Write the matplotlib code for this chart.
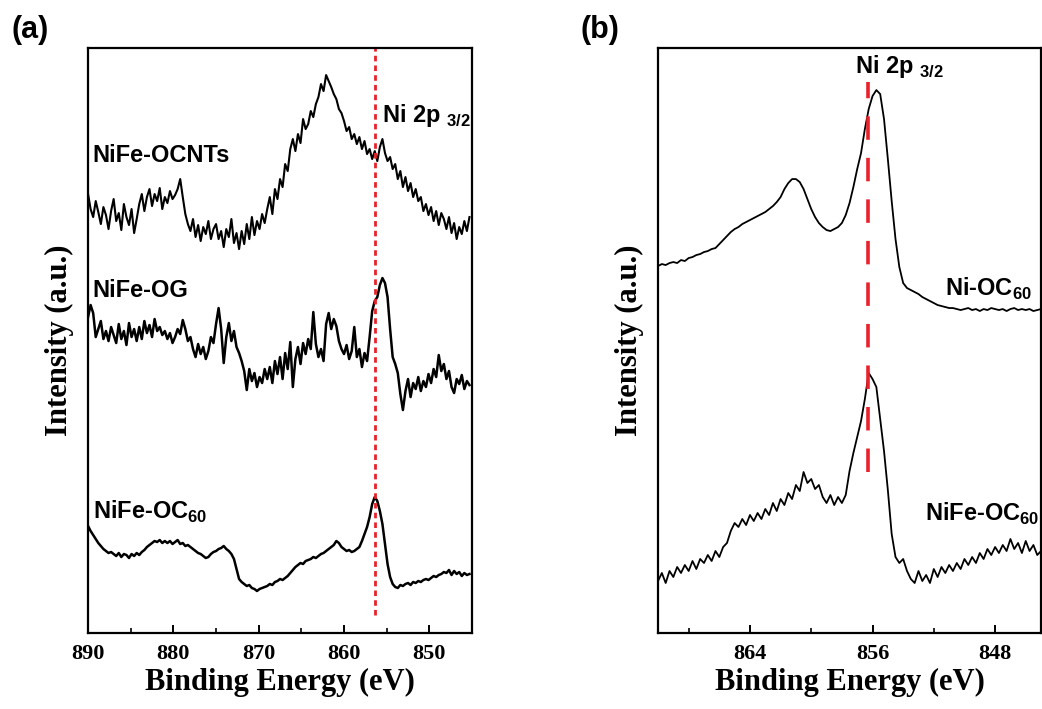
import numpy as np
import matplotlib.pyplot as plt
from matplotlib.ticker import MultipleLocator

plt.rcParams["mathtext.fontset"] = "custom"
plt.rcParams["mathtext.bf"] = "Liberation Sans:bold"

# Panel (a): energy grid 890 -> 845.3 eV, step 0.3 eV
energy_a = np.linspace(890, 845.3, 150)

ocnts = [515, 500, 492, 508, 497, 485, 502, 494, 480, 498,
         510, 488, 496, 479, 505, 492, 484, 500, 476, 490,
         505, 515, 498, 512, 520, 503, 515, 508, 521, 500,
         512, 506, 518, 510, 514, 520, 530, 512, 495, 485,
         478, 490, 472, 484, 468, 482, 475, 488, 470, 480,
         485, 470, 478, 462, 480, 472, 490, 466, 476, 460,
         478, 465, 485, 470, 492, 474, 488, 480, 495, 486,
         500, 512, 495, 520, 510, 530, 522, 545, 538, 560,
         570, 558, 575, 566, 590, 580, 585, 598, 592, 605,
         612, 625, 618, 634, 628, 622, 615, 610, 600, 596,
         588, 578, 582, 570, 575, 565, 572, 560, 568, 555,
         560, 550, 558, 548, 562, 570, 556, 548, 552, 540,
         545, 530, 538, 522, 532, 518, 526, 512, 520, 508,
         512, 498, 505, 494, 502, 488, 498, 484, 496, 490,
         480, 492, 476, 486, 470, 482, 475, 488, 478, 492]

og = [392, 404, 396, 372, 380, 388, 370, 378, 368, 382,
      374, 366, 385, 370, 378, 364, 386, 372, 380, 368,
      382, 370, 388, 376, 384, 372, 390, 378, 382, 374,
      378, 370, 376, 366, 372, 380, 375, 389, 380, 368,
      372, 360, 352, 365, 355, 362, 350, 358, 372, 366,
      385, 401, 380, 346, 372, 386, 368, 378, 362, 356,
      348, 338, 319, 340, 328, 336, 322, 332, 326, 340,
      330, 342, 326, 348, 335, 352, 330, 356, 340, 367,
      322, 350, 362, 345, 366, 355, 370, 360, 397, 365,
      352, 360, 348, 385, 396, 380, 390, 383, 368, 360,
      355, 364, 350, 358, 382, 352, 360, 342, 356, 348,
      372, 398, 408, 412, 424, 431, 426, 412, 380, 352,
      345, 336, 315, 299, 318, 330, 312, 326, 320, 332,
      318, 328, 322, 335, 326, 340, 332, 354, 338, 345,
      330, 338, 322, 316, 330, 325, 334, 320, 328, 324]

oc60_a = [183, 178, 174, 170, 166, 163, 160, 158, 156, 157,
          155, 153, 156, 152, 155, 154, 151, 155, 153, 156,
          154, 157, 159, 162, 164, 166, 168, 167, 169, 166,
          168, 166, 168, 165, 167, 169, 165, 166, 163, 164,
          162, 160, 158, 156, 155, 153, 151, 152, 155, 157,
          158, 160, 161, 163, 160, 158, 155, 150, 140, 130,
          127, 125, 123, 124, 121, 120, 118, 120, 121, 122,
          123, 125, 124, 127, 128, 130, 129, 131, 133, 136,
          139, 142, 144, 146, 145, 148, 149, 150, 152, 151,
          153, 155, 156, 158, 160, 162, 164, 168, 166, 162,
          160, 158, 159, 157, 158, 160, 162, 168, 175, 182,
          192, 205, 212, 208, 198, 185, 165, 145, 132, 125,
          122, 121, 124, 123, 125, 126, 124, 127, 126, 128,
          127, 129, 130, 129, 131, 133, 132, 134, 135, 137,
          136, 139, 134, 138, 135, 137, 133, 136, 134, 135]

# Panel (b): energy grid 870 -> 845 eV, step 0.25 eV
energy_b = np.linspace(870, 845, 101)

ni_oc60 = [443, 445, 444, 446, 447, 446, 449, 448, 451, 452,
           454, 455, 457, 458, 460, 461, 465, 469, 473, 477,
           480, 482, 485, 487, 489, 491, 493, 495, 497, 500,
           503, 507, 512, 520, 526, 530, 530, 527, 520, 510,
           500, 492, 486, 482, 479, 478, 480, 482, 486, 494,
           506, 522, 540, 556, 580, 600, 613, 619, 615, 590,
           550, 508, 470, 442, 426, 421, 419, 417, 415, 412,
           410, 408, 406, 404, 403, 402, 401, 401, 400, 399,
           400, 401, 399, 400, 398, 400, 399, 401, 400, 399,
           400, 398, 400, 401, 399, 400, 399, 400, 398, 399,
           400]

nife_oc60_b = [128, 136, 126, 138, 132, 142, 136, 144, 138, 148,
               140, 150, 146, 154, 148, 158, 152, 162, 166, 178,
               186, 182, 190, 184, 194, 188, 196, 190, 200, 194,
               206, 198, 210, 204, 216, 210, 224, 218, 237, 226,
               230, 220, 224, 212, 206, 214, 204, 212, 206, 214,
               238, 256, 272, 288, 310, 336, 330, 322, 290, 258,
               219, 175, 152, 146, 150, 138, 130, 126, 138, 128,
               134, 126, 140, 132, 142, 136, 144, 138, 146, 140,
               150, 144, 152, 146, 156, 150, 160, 154, 162, 156,
               164, 158, 170, 160, 166, 156, 168, 158, 164, 154,
               158]

peak_a = 856.4
peak_b = 856.3

serif = "Liberation Serif"
sans = "Liberation Sans"
lab_fs = 17

fig = plt.figure(figsize=(10.42, 7.09), dpi=100)
ax1 = fig.add_axes([0.0845, 0.1072, 0.3685, 0.825])
ax2 = fig.add_axes([0.6315, 0.1072, 0.3676, 0.825])

# (a)
ax1.plot(energy_a, ocnts, color="black", lw=1.5)
ax1.plot(energy_a, og, color="black", lw=1.8)
ax1.plot(energy_a, oc60_a, color="black", lw=1.8)
ax1.plot([peak_a, peak_a], [94, 661], color="#e8212a", lw=2.0,
         linestyle=(0, (2, 1.5)))
ax1.set_xlim(890, 845)
ax1.set_ylim(76, 661)
ax1.xaxis.set_major_locator(MultipleLocator(10))
ax1.xaxis.set_minor_locator(MultipleLocator(5))

ax1.text(0.012, 0.817, "NiFe-OCNTs", transform=ax1.transAxes, fontsize=lab_fs,
         fontweight="bold", family=sans, va="center")
ax1.text(0.012, 0.586, "NiFe-OG", transform=ax1.transAxes, fontsize=lab_fs,
         fontweight="bold", family=sans, va="center")
ax1.text(0.012, 0.207, r"NiFe-OC$_{\mathbf{60}}$", transform=ax1.transAxes,
         fontsize=lab_fs, fontweight="bold", family=sans, va="center")
ax1.text(0.766, 0.884, r"Ni 2p $_{\mathbf{3/2}}$", transform=ax1.transAxes,
         fontsize=lab_fs, fontweight="bold", family=sans, va="center")

# (b)
ax2.plot(energy_b, ni_oc60, color="black", lw=1.3)
ax2.plot(energy_b, nife_oc60_b, color="black", lw=1.3)
ax2.plot([peak_b, peak_b], [237, 627], color="#e8212a", lw=2.6,
         linestyle=(0, (6.5, 5)))
ax2.set_xlim(870, 845)
ax2.set_ylim(76, 661)
ax2.xaxis.set_major_locator(MultipleLocator(8))
ax2.xaxis.set_minor_locator(MultipleLocator(4))

ax2.text(0.749, 0.588, r"Ni-OC$_{\mathbf{60}}$", transform=ax2.transAxes,
         fontsize=lab_fs, fontweight="bold", family=sans, va="center")
ax2.text(0.697, 0.203, r"NiFe-OC$_{\mathbf{60}}$", transform=ax2.transAxes,
         fontsize=lab_fs, fontweight="bold", family=sans, va="center")
ax2.text(0.514, 0.968, r"Ni 2p $_{\mathbf{3/2}}$", transform=ax2.transAxes,
         fontsize=lab_fs, fontweight="bold", family=sans, va="center")

for ax in (ax1, ax2):
    ax.set_yticks([])
    for s in ax.spines.values():
        s.set_linewidth(1.6)
    ax.tick_params(axis="x", which="major", direction="in", length=6,
                   width=1.4, labelsize=16, pad=8)
    ax.tick_params(axis="x", which="minor", direction="in", length=3.5,
                   width=1.2)
    for lab in ax.get_xticklabels():
        lab.set_family(serif)
        lab.set_fontweight("bold")
    ax.set_xlabel("Binding Energy (eV)", family=serif, fontweight="bold",
                  fontsize=22, labelpad=3)
    ax.set_ylabel("Intensity (a.u.)", family=serif, fontweight="bold",
                  fontsize=22, labelpad=10)

fig.text(0.011, 0.958, "(a)", fontsize=22, fontweight="bold", family=sans,
         va="center")
fig.text(0.557, 0.958, "(b)", fontsize=22, fontweight="bold", family=sans,
         va="center")

fig.savefig("out.png", dpi=100)
